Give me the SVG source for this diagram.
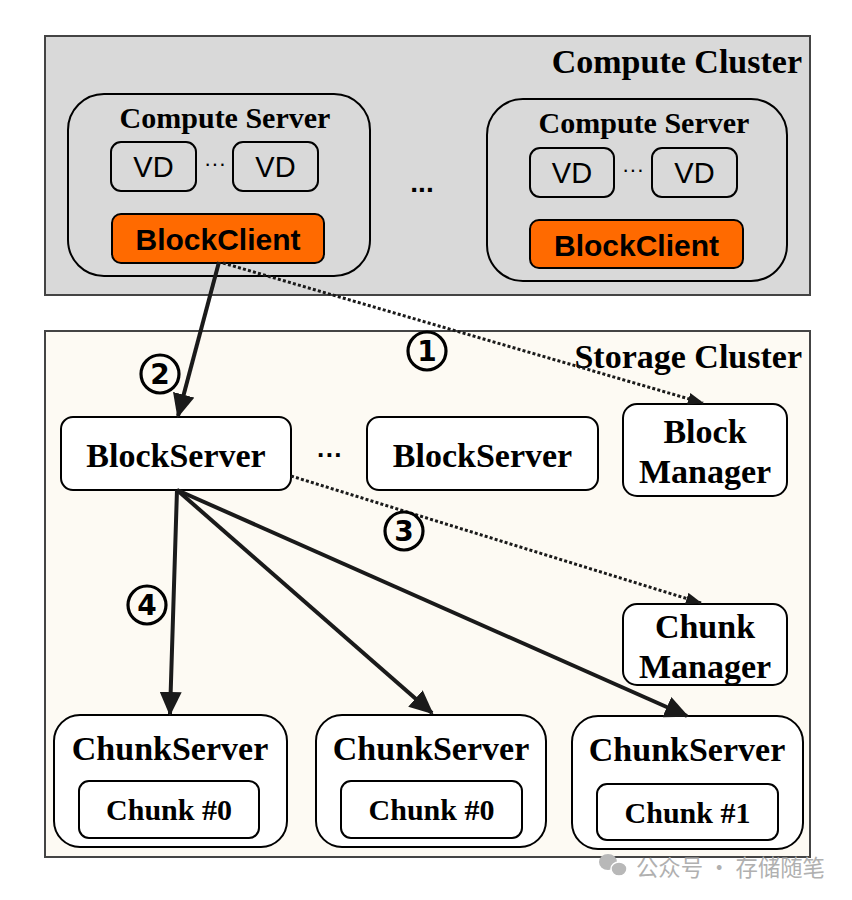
<svg xmlns="http://www.w3.org/2000/svg" width="852" height="900" viewBox="0 0 852 900">
<defs>
<style>
.serif{font-family:"Liberation Serif","Times New Roman",serif;font-weight:bold;fill:#000}
.sans{font-family:"Liberation Sans",Arial,sans-serif;fill:#000}
.grp{fill:#d9d9d9;stroke:#000;stroke-width:2}
.node{fill:#fff;stroke:#000;stroke-width:2}
.solid{stroke:#1a1a1a;stroke-width:4;fill:none}
.dot{stroke:#1a1a1a;stroke-width:3;fill:none;stroke-dasharray:3 2.2}
.num{fill:none;stroke:#000;stroke-width:3.2}
.dig{font-family:"DejaVu Sans","Liberation Sans",sans-serif;font-weight:bold;font-size:28px;text-anchor:middle;fill:#000}
</style>
<marker id="ah" markerUnits="userSpaceOnUse" markerWidth="24" markerHeight="22" refX="22" refY="11" orient="auto"><path d="M0,0 L24,11 L0,22 z" fill="#1a1a1a"/></marker>
<marker id="ahs" markerUnits="userSpaceOnUse" markerWidth="16" markerHeight="12" refX="15" refY="6" orient="auto"><path d="M0,0 L16,6 L0,12 z" fill="#1a1a1a"/></marker>
</defs>
<rect width="852" height="900" fill="#fff"/>

<g id="compute-cluster">
<rect x="45" y="36" width="765" height="259" fill="#d9d9d9" stroke="#444" stroke-width="2"/>
<text class="serif" x="802" y="73" font-size="34" text-anchor="end">Compute Cluster</text>
<text class="sans" x="422" y="192" font-size="28" font-weight="bold" text-anchor="middle">...</text>
</g>

<g id="compute-server-1">
<rect class="grp" x="68" y="94" width="302" height="182" rx="36"/>
<text class="serif" x="225" y="128" font-size="30" text-anchor="middle">Compute Server</text>
<rect class="grp" x="111" y="142" width="85" height="49" rx="10"/>
<text class="sans" x="153.5" y="177" font-size="29" text-anchor="middle">VD</text>
<text class="sans" x="215" y="171" font-size="22" text-anchor="middle">···</text>
<rect class="grp" x="233" y="142" width="85" height="49" rx="10"/>
<text class="sans" x="275.5" y="177" font-size="29" text-anchor="middle">VD</text>
<rect x="112" y="214" width="212" height="49" rx="9" fill="#ff6a00" stroke="#000" stroke-width="2"/>
<text class="sans" x="218" y="250" font-size="30" font-weight="bold" text-anchor="middle">BlockClient</text>
</g>

<g id="compute-server-2">
<rect class="grp" x="487" y="99" width="300" height="182" rx="36"/>
<text class="serif" x="644" y="133" font-size="30" text-anchor="middle">Compute Server</text>
<rect class="grp" x="530" y="148" width="84" height="49" rx="10"/>
<text class="sans" x="572" y="183" font-size="29" text-anchor="middle">VD</text>
<text class="sans" x="633" y="177" font-size="22" text-anchor="middle">···</text>
<rect class="grp" x="652" y="148" width="85" height="49" rx="10"/>
<text class="sans" x="694.5" y="183" font-size="29" text-anchor="middle">VD</text>
<rect x="530" y="220" width="213" height="48" rx="9" fill="#ff6a00" stroke="#000" stroke-width="2"/>
<text class="sans" x="636.5" y="256" font-size="30" font-weight="bold" text-anchor="middle">BlockClient</text>
</g>

<g id="storage-cluster">
<rect x="45" y="331" width="765" height="526" fill="#fdfaf3" stroke="#444" stroke-width="2"/>
<text class="serif" x="802" y="368" font-size="34" text-anchor="end">Storage Cluster</text>
<text class="sans" x="330" y="464" font-size="26" font-weight="bold" text-anchor="middle">···</text>
</g>

<g id="blockserver-1">
<rect class="node" x="61" y="417" width="230" height="73" rx="12"/>
<text class="serif" x="176" y="467" font-size="34" text-anchor="middle">BlockServer</text>
</g>
<g id="blockserver-2">
<rect class="node" x="367" y="417" width="231" height="73" rx="12"/>
<text class="serif" x="482.5" y="467" font-size="34" text-anchor="middle">BlockServer</text>
</g>
<g id="block-manager">
<rect class="node" x="623" y="404" width="164" height="92" rx="14"/>
<text class="serif" x="705" y="443" font-size="34" text-anchor="middle">Block</text>
<text class="serif" x="705" y="483" font-size="34" text-anchor="middle">Manager</text>
</g>
<g id="chunk-manager">
<rect class="node" x="623" y="604" width="164" height="81" rx="14"/>
<text class="serif" x="705" y="638" font-size="34" text-anchor="middle">Chunk</text>
<text class="serif" x="705" y="678" font-size="34" text-anchor="middle">Manager</text>
</g>

<g id="chunkserver-1">
<rect class="node" x="54" y="715" width="233" height="132" rx="26"/>
<text class="serif" x="170" y="760" font-size="34" text-anchor="middle">ChunkServer</text>
<rect class="node" x="79" y="781" width="180" height="57" rx="10"/>
<text class="serif" x="169" y="820" font-size="30" text-anchor="middle">Chunk #0</text>
</g>
<g id="chunkserver-2">
<rect class="node" x="316" y="715" width="230" height="132" rx="26"/>
<text class="serif" x="431" y="760" font-size="34" text-anchor="middle">ChunkServer</text>
<rect class="node" x="341" y="781" width="181" height="57" rx="10"/>
<text class="serif" x="431.5" y="820" font-size="30" text-anchor="middle">Chunk #0</text>
</g>
<g id="chunkserver-3">
<rect class="node" x="572" y="716" width="231" height="133" rx="26"/>
<text class="serif" x="687" y="761" font-size="34" text-anchor="middle">ChunkServer</text>
<rect class="node" x="597" y="784" width="181" height="56" rx="10"/>
<text class="serif" x="687.5" y="823" font-size="30" text-anchor="middle">Chunk #1</text>
</g>

<g id="connectors">
<line class="solid" x1="219" y1="262" x2="178" y2="416" marker-end="url(#ah)"/>
<line class="dot" x1="223" y1="263" x2="703" y2="403" marker-end="url(#ahs)"/>
<line class="dot" x1="291" y1="476" x2="701" y2="603" marker-end="url(#ahs)"/>
<line class="solid" x1="177" y1="490" x2="170" y2="714" marker-end="url(#ah)"/>
<line class="solid" x1="177" y1="490" x2="432" y2="713" marker-end="url(#ah)"/>
<line class="solid" x1="177" y1="490" x2="687" y2="716" marker-end="url(#ah)"/>
</g>

<g id="labels">
<circle class="num" cx="427" cy="351" r="19"/>
<text class="dig" x="427" y="361">1</text>
<circle class="num" cx="160" cy="374" r="19"/>
<text class="dig" x="160" y="384">2</text>
<circle class="num" cx="404" cy="531" r="19"/>
<text class="dig" x="404" y="541">3</text>
<circle class="num" cx="147" cy="605" r="19"/>
<text class="dig" x="147" y="615">4</text>
</g>

<g id="watermark" fill="#b8b8b8">
<ellipse cx="608" cy="862" rx="9" ry="8"/>
<ellipse cx="619" cy="869" rx="8" ry="7" stroke="#fff" stroke-width="1.5"/>
<text x="636" y="876" font-size="23" textLength="189" lengthAdjust="spacingAndGlyphs" font-family="'Noto Sans CJK SC',sans-serif" fill="#b0b0b0">公众号 · 存储随笔</text>
</g>
</svg>
